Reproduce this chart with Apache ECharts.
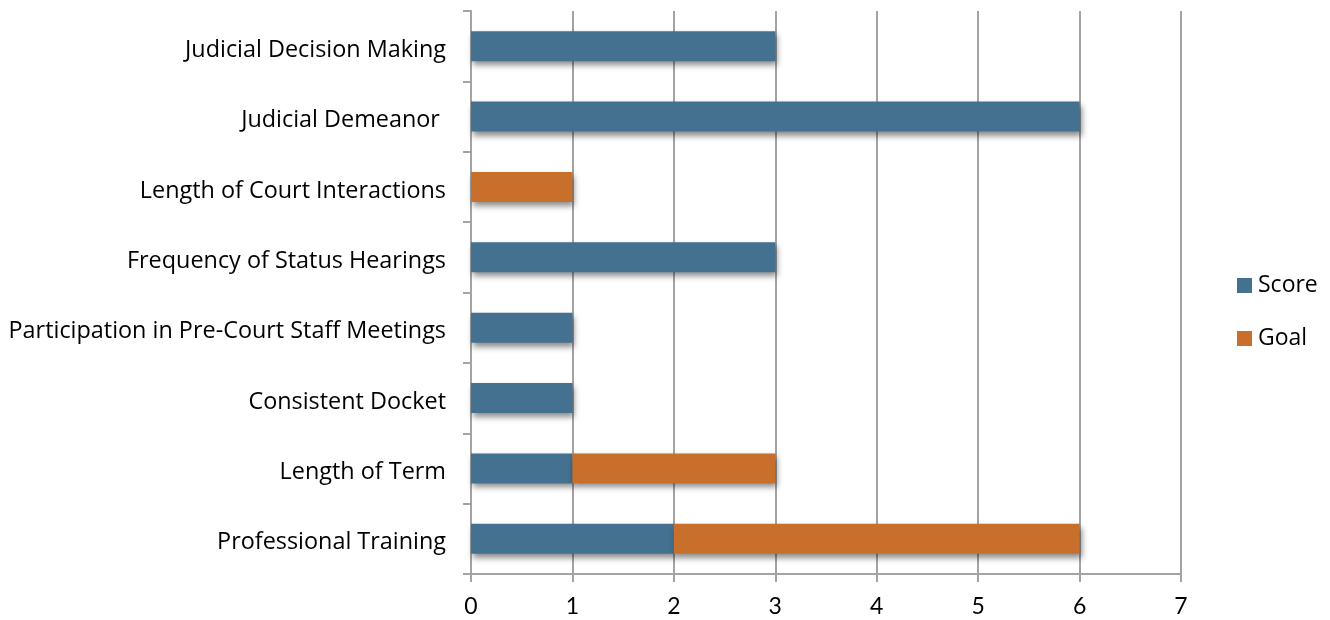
<!DOCTYPE html>
<html>
<head>
<meta charset="utf-8">
<script src="https://cdn.jsdelivr.net/npm/echarts@6/dist/echarts.min.js"></script>
<style>
  html, body { margin: 0; padding: 0; background: #ffffff; }
  #chart { width: 1330px; height: 620px; }
</style>
</head>
<body>
<div id="chart"></div>
<script>
// Categories listed bottom to top (category axis starts at the bottom)
const categories = [
  'Professional Training',
  'Length of Term',
  'Consistent Docket',
  'Participation in Pre-Court Staff Meetings',
  'Frequency of Status Hearings',
  'Length of Court Interactions',
  'Judicial Demeanor ',
  'Judicial Decision Making'
];
const scoreValues = [2, 1, 1, 1, 3, 0, 6, 3];
const goalValues  = [4, 2, 0, 0, 0, 1, 0, 0];
const xTicks = { min: 0, max: 7, interval: 1 };

const blue = '#43718F';
const orange = '#C96F2C';
const gray = '#A3A3A3';
const labelFont = '"Open Sans", "Noto Sans", sans-serif';
const tickFont = 'Lato, "Open Sans", sans-serif';

const barShadow = {
  shadowColor: 'rgba(0,0,0,0.45)',
  shadowBlur: 6,
  shadowOffsetX: 2,
  shadowOffsetY: 4
};

const chart = echarts.init(document.getElementById('chart'), null, { renderer: 'canvas' });
chart.setOption({
  animation: false,
  backgroundColor: '#ffffff',
  grid: { left: 471, right: 149, top: 11, bottom: 46, containLabel: false },
  legend: {
    orient: 'vertical',
    left: 1237,
    top: 274,
    padding: 0,
    itemWidth: 15,
    itemHeight: 15,
    itemGap: 30,
    icon: 'rect',
    textStyle: { fontFamily: labelFont, fontSize: 23, color: '#000', padding: [2, 0, 0, 1] },
    data: ['Score', 'Goal']
  },
  xAxis: {
    type: 'value',
    min: xTicks.min,
    max: xTicks.max,
    interval: xTicks.interval,
    axisLine: { show: true, lineStyle: { color: gray, width: 2 } },
    axisTick: { show: true, length: 8, lineStyle: { color: gray, width: 2 } },
    axisLabel: { color: '#000', fontFamily: tickFont, fontSize: 23, margin: 21 },
    splitLine: { show: true, lineStyle: { color: gray, width: 2 } }
  },
  yAxis: {
    type: 'category',
    data: categories,
    axisLine: { show: true, lineStyle: { color: gray, width: 2 } },
    axisTick: { show: true, length: 8, lineStyle: { color: gray, width: 2 } },
    axisLabel: {
      margin: 25,
      formatter: (v) => '{t|' + v + '}',
      rich: {
        t: {
          color: '#000', fontFamily: labelFont, fontSize: 23.4,
          lineHeight: 24, padding: [8, 0, 0, 0]
        }
      }
    }
  },
  series: [
    {
      name: 'Score',
      type: 'bar',
      stack: 'total',
      barWidth: 30,
      data: scoreValues,
      itemStyle: Object.assign({ color: blue }, barShadow)
    },
    {
      name: 'Goal',
      type: 'bar',
      stack: 'total',
      barWidth: 30,
      data: goalValues,
      itemStyle: Object.assign({ color: orange }, barShadow)
    }
  ]
});
</script>
</body>
</html>
